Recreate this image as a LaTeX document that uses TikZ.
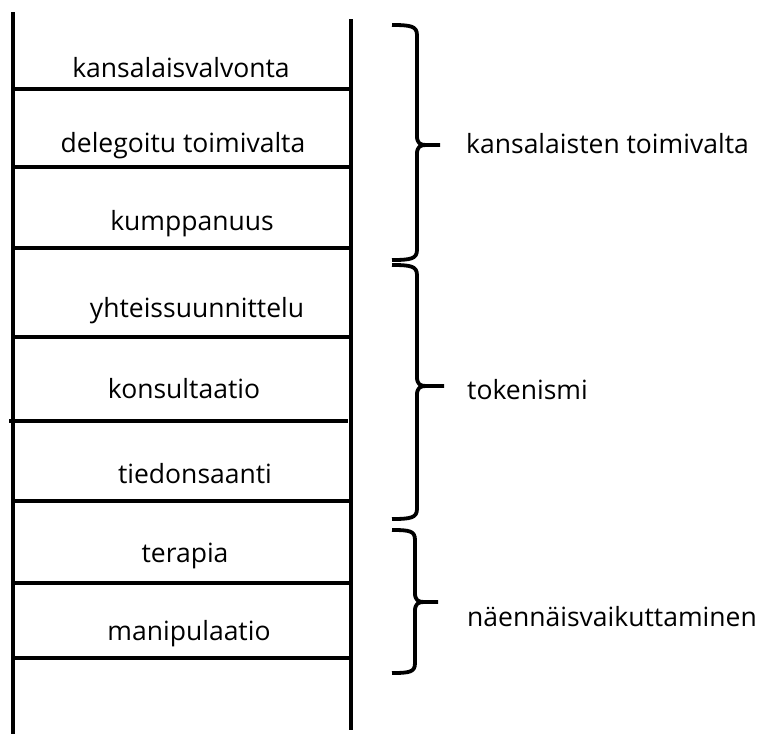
\documentclass[tikz,border=0pt]{standalone}
\usepackage{fontspec}
\setmainfont{Open Sans}
\begin{document}
\begin{tikzpicture}[x=1pt,y=-1pt,
  rail/.style={line width=4.5pt},
  rung/.style={line width=4.5pt},
  brace/.style={line width=3.8pt,line join=round},
  lbl/.style={font=\fontsize{26.5}{30}\selectfont,inner sep=0pt,anchor=base},
  grp/.style={font=\fontsize{26.5}{30}\selectfont,inner sep=0pt,anchor=base west}]
\useasboundingbox (0,0) rectangle (758,734);

% ladder rails
\coordinate (lt) at (13,12);  \coordinate (lb) at (13,734);
\coordinate (rt) at (351,19); \coordinate (rb) at (351,730);
\draw[rail] (lt) -- (lb);
\draw[rail] (rt) -- (rb);

% rungs
\foreach \y in {89,167,248,337,501,583,658}
  \draw[rung] (13,\y) -- (351,\y);
\draw[rung] (9,421) -- (348,421);

% rung labels
\node[lbl] (r1) at (181,77)  {kansalaisvalvonta};
\node[lbl] (r2) at (183,152) {delegoitu toimivalta};
\node[lbl] (r3) at (192,230) {kumppanuus};
\node[lbl] (r4) at (197,317) {yhteissuunnittelu};
\node[lbl] (r5) at (184,398) {konsultaatio};
\node[lbl] (r6) at (195,483) {tiedonsaanti};
\node[lbl] (r7) at (185,562) {terapia};
\node[lbl] (r8) at (189,640) {manipulaatio};

% curly braces: #1 top, #2 middle, #3 bottom, #4 spine x, #5 tip x
\newcommand\ladderbrace[5]{%
  \draw[brace] (392,#1) .. controls (410,#1) and (#4,#1+1) .. (#4,#1+10)
    -- (#4,#2-9) .. controls (#4,#2-2) and (#4+3,#2) .. (#4+9,#2) -- (#5,#2);
  \draw[brace] (#4+9,#2) .. controls (#4+3,#2) and (#4,#2+2) .. (#4,#2+9)
    -- (#4,#3-10) .. controls (#4,#3-1) and (410,#3) .. (392,#3);}
\ladderbrace{25}{145}{260}{417}{440}
\ladderbrace{265}{386}{519}{417}{444}
\ladderbrace{530}{602}{673}{415}{438}

% group labels
\node[grp] (g1) at (466,153) {kansalaisten toimivalta};
\node[grp] (g2) at (467,399) {tokenismi};
\node[grp] (g3) at (467,626) {näennäisvaikuttaminen};
\end{tikzpicture}
\end{document}
